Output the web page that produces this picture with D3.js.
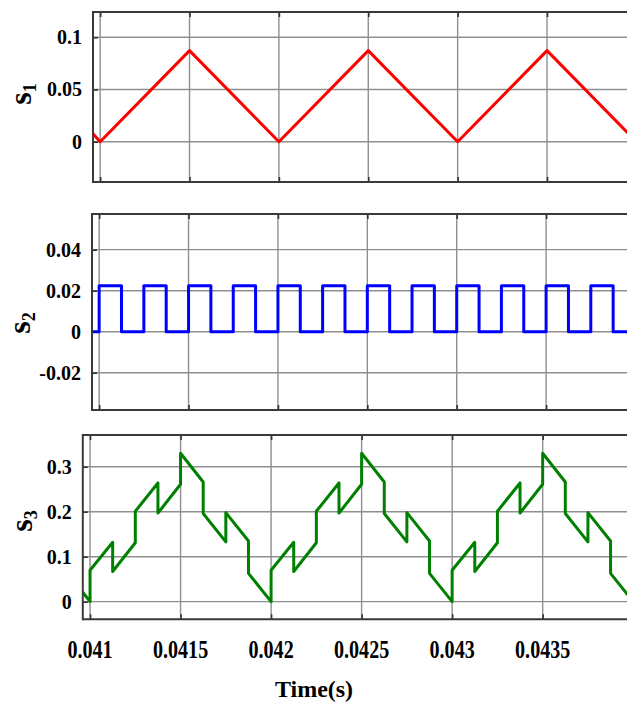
<!DOCTYPE html>
<html><head><meta charset="utf-8">
<script src="https://cdn.jsdelivr.net/npm/d3@7"></script>
<style>html,body{margin:0;padding:0;background:#fff;overflow:hidden}</style>
</head><body><svg id="c" width="627" height="715"></svg>
<script>
// ---- data ----
const xDomain = [0.04096, 0.044];
const xTicks = [0.041, 0.0415, 0.042, 0.0425, 0.043, 0.0435];
const xTickLabels = ["0.041", "0.0415", "0.042", "0.0425", "0.043", "0.0435"];

const s1Time  = [0.04096, 0.041, 0.0415, 0.042, 0.0425, 0.043, 0.0435, 0.044];
const s1Value = [0.0075, 0, 0.0872, 0, 0.0872, 0, 0.0872, 0];

const s2Time  = [0.04096, 0.041, 0.041125, 0.04125, 0.041375, 0.0415, 0.041625, 0.04175, 0.041875,
                 0.042, 0.042125, 0.04225, 0.042375, 0.0425, 0.042625, 0.04275, 0.042875,
                 0.043, 0.043125, 0.04325, 0.043375, 0.0435, 0.043625, 0.04375, 0.043875, 0.044];
const s2Value = [0, 0.0224, 0, 0.0224, 0, 0.0224, 0, 0.0224, 0,
                 0.0224, 0, 0.0224, 0, 0.0224, 0, 0.0224, 0,
                 0.0224, 0, 0.0224, 0, 0.0224, 0, 0.0224, 0, 0.0224];

const s3Time = [0.04096,
  0.041, 0.041, 0.041125, 0.041125, 0.04125, 0.04125, 0.041375, 0.041375, 0.0415, 0.0415,
  0.041625, 0.041625, 0.04175, 0.04175, 0.041875, 0.041875,
  0.042, 0.042, 0.042125, 0.042125, 0.04225, 0.04225, 0.042375, 0.042375, 0.0425, 0.0425,
  0.042625, 0.042625, 0.04275, 0.04275, 0.042875, 0.042875,
  0.043, 0.043, 0.043125, 0.043125, 0.04325, 0.04325, 0.043375, 0.043375, 0.0435, 0.0435,
  0.043625, 0.043625, 0.04375, 0.04375, 0.043875, 0.043875, 0.044];
const s3Value = [0.021,
  0, 0.070, 0.132, 0.067, 0.131, 0.201, 0.264, 0.197, 0.261, 0.330,
  0.266, 0.196, 0.133, 0.198, 0.135, 0.063,
  0, 0.070, 0.132, 0.067, 0.131, 0.201, 0.264, 0.197, 0.261, 0.330,
  0.266, 0.196, 0.133, 0.198, 0.135, 0.063,
  0, 0.070, 0.132, 0.067, 0.131, 0.201, 0.264, 0.197, 0.261, 0.330,
  0.266, 0.196, 0.133, 0.198, 0.135, 0.063, 0];

const s1YTicks = [0, 0.05, 0.1];           const s1YLabels = ["0", "0.05", "0.1"];
const s2YTicks = [-0.02, 0, 0.02, 0.04];   const s2YLabels = ["-0.02", "0", "0.02", "0.04"];
const s3YTicks = [0, 0.1, 0.2, 0.3];       const s3YLabels = ["0", "0.1", "0.2", "0.3"];

// ---- layout ----
const FONT = "'Liberation Serif','Times New Roman',serif";
const panels = [
  {sub: "1", time: s1Time, value: s1Value, color: "#ff0000", step: false,
   yDomain: [-0.0386, 0.1242], yTicks: s1YTicks, yLabels: s1YLabels,
   left: 93, right: 636.4, top: 12, bottom: 182, labX: 31, labY: 94, xLabels: false},
  {sub: "2", time: s2Time, value: s2Value, color: "#0000ff", step: true,
   yDomain: [-0.0382, 0.0574], yTicks: s2YTicks, yLabels: s2YLabels,
   left: 92, right: 635.5, top: 214, bottom: 410, labX: 30, labY: 323, xLabels: false},
  {sub: "3", time: s3Time, value: s3Value, color: "#008000", step: false,
   yDomain: [-0.0392, 0.3706], yTicks: s3YTicks, yLabels: s3YLabels,
   left: 82.8, right: 633.2, top: 435, bottom: 619.3, labX: 32, labY: 521, xLabels: true}
];

const svg = d3.select("#c");
svg.append("rect").attr("width", 627).attr("height", 715).attr("fill", "#fff");

panels.forEach((p, i) => {
  const x = d3.scaleLinear().domain(xDomain).range([p.left, p.right]);
  const y = d3.scaleLinear().domain(p.yDomain).range([p.bottom, p.top]);
  const g = svg.append("g");

  // grid
  g.append("g").selectAll("line").data(xTicks).join("line")
    .attr("x1", d => x(d)).attr("x2", d => x(d)).attr("y1", p.top).attr("y2", p.bottom)
    .attr("stroke", "#8f8f8f").attr("stroke-width", 1.4);
  g.append("g").selectAll("line").data(p.yTicks).join("line")
    .attr("x1", p.left).attr("x2", 640).attr("y1", d => y(d)).attr("y2", d => y(d))
    .attr("stroke", "#8f8f8f").attr("stroke-width", 1.4);

  // ticks (inward)
  const axB = d3.axisBottom(x).tickValues(xTicks).tickSize(-5).tickFormat("");
  const axT = d3.axisTop(x).tickValues(xTicks).tickSize(-5).tickFormat("");
  const axL = d3.axisLeft(y).tickValues(p.yTicks).tickSize(-5).tickFormat("");
  [ [axB, p.bottom, 0], [axT, p.top, 0] ].forEach(([ax, ty]) => {
    const a = g.append("g").attr("transform", `translate(0,${ty})`).call(ax);
    a.select(".domain").remove();
    a.selectAll("line").attr("stroke", "#333").attr("stroke-width", 1.6);
  });
  const al = g.append("g").attr("transform", `translate(${p.left},0)`).call(axL);
  al.select(".domain").remove();
  al.selectAll("line").attr("stroke", "#333").attr("stroke-width", 1.6);

  // clip + line
  const cid = "clip" + i;
  svg.append("clipPath").attr("id", cid).append("rect")
    .attr("x", p.left).attr("y", p.top).attr("width", p.right - p.left).attr("height", p.bottom - p.top);
  const pts = p.time.map((t, k) => [t, p.value[k]]);
  const line = d3.line().x(d => x(d[0])).y(d => y(d[1]))
    .curve(p.step ? d3.curveStepAfter : d3.curveLinear);
  g.append("path").datum(pts).attr("d", line).attr("clip-path", `url(#${cid})`)
    .attr("fill", "none").attr("stroke", p.color).attr("stroke-width", 3)
    .attr("stroke-linejoin", "round");

  // frame
  g.append("line").attr("x1", p.left).attr("x2", 640).attr("y1", p.top).attr("y2", p.top)
    .attr("stroke", "#3a3a3a").attr("stroke-width", 2);
  g.append("line").attr("x1", p.left).attr("x2", 640).attr("y1", p.bottom).attr("y2", p.bottom)
    .attr("stroke", "#3a3a3a").attr("stroke-width", 2);
  g.append("line").attr("x1", p.left).attr("x2", p.left).attr("y1", p.top - 1).attr("y2", p.bottom + 1)
    .attr("stroke", "#3a3a3a").attr("stroke-width", 2);

  // y tick labels
  g.append("g").selectAll("text").data(p.yTicks).join("text")
    .attr("x", p.left - 11).attr("y", d => y(d)).attr("dy", "0.35em")
    .attr("text-anchor", "end").attr("font-family", FONT).attr("font-weight", "bold")
    .attr("font-size", 20).attr("fill", "#000")
    .text((d, k) => p.yLabels[k]);

  // y label s_n
  const t = g.append("text").attr("transform", `translate(${p.labX},${p.labY}) rotate(-90)`)
    .attr("text-anchor", "middle").attr("font-family", FONT).attr("font-weight", "bold").attr("fill", "#000");
  t.append("tspan").attr("font-size", 32).text("s");
  t.append("tspan").attr("font-size", 18).attr("dy", 5).text(p.sub);

  // x tick labels
  if (p.xLabels) {
    g.append("g").selectAll("text").data(xTicks).join("text")
      .attr("transform", d => `translate(${x(d)},658) scale(0.82,1)`)
      .attr("text-anchor", "middle").attr("font-family", FONT).attr("font-weight", "bold")
      .attr("font-size", 24.5).attr("fill", "#000")
      .text((d, k) => xTickLabels[k]);
  }
});

svg.append("text").attr("x", 314).attr("y", 697).attr("text-anchor", "middle")
  .attr("font-family", FONT).attr("font-weight", "bold").attr("font-size", 24).attr("fill", "#000")
  .text("Time(s)");
</script></body></html>
